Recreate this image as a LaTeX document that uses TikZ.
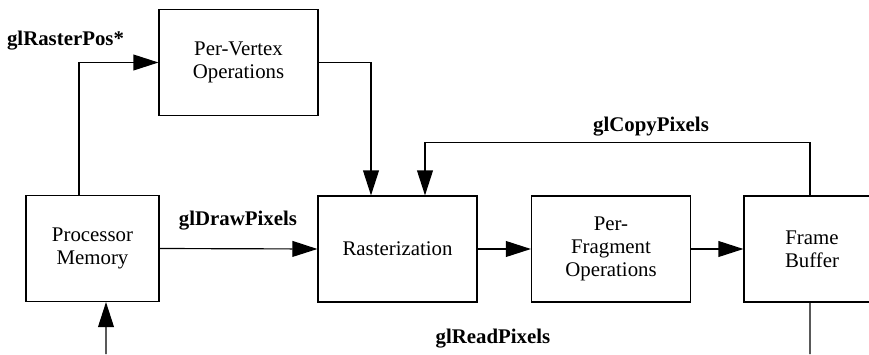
\documentclass[tikz,border=0pt]{standalone}
\usepackage{fontspec}
\setmainfont{Liberation Serif}
\newfontfamily\timesface{Liberation Serif}
\usetikzlibrary{arrows.meta}
\newcommand{\stagebox}[4][]{\node[stage,#1] at (#2) (#3) {#4}}

\begin{document}
\begin{tikzpicture}[x=0.6pt,y=-0.6pt,line width=0.7pt,
		>={Triangle[length=15pt,width=9.5pt]},
		stage/.style={draw,align=center,minimum width=95.4pt,minimum height=63.6pt,inner sep=2pt,font=\timesface\fontsize{12.5}{14}\selectfont},
		lbl/.style={font=\timesface\fontsize{12.5}{14}\selectfont\bfseries,inner sep=0pt}]
				\useasboundingbox (0,0) rectangle (869,354);
				\clip (0,0) rectangle (869,354);
				
				\stagebox[minimum width=79.8pt]{92.5,248.5}{mem}{Processor\\Memory};
				\stagebox{238.5,62.5}{vtx}{Per-Vertex\\Operations};
				\stagebox{397.5,249}{rast}{Rasterization};
				\stagebox{611,249}{frag}{Per-\\Fragment\\Operations};
				\stagebox[minimum width=81.6pt]{812,249}{fb}{Frame\\Buffer};
				
				\node[lbl] (rasterpos) at (65.5,41) {glRasterPos*};
				\node[lbl] (drawpix) at (238,221) {glDrawPixels};
				\node[lbl] (copypix) at (651,127) {glCopyPixels};
				\node[lbl] (readpix) at (493,339) {glReadPixels};
				
				\coordinate (memin) at (106,354);
				\coordinate (fbout) at (810,354);
				
				\draw [->]([xshift=-8.1pt]mem.north) |- (vtx.west);
				\draw [->](vtx.east) -| ([xshift=-15.9pt]rast.north);
				\draw [->]([xshift=-1.2pt]fb.north) -- ++(0,-53) -| ([xshift=16.5pt]rast.north);
				\draw [->](mem.east) -- (rast.west);
				\draw [->](rast) -- (frag);
				\draw [->](frag) -- (fb);
				\draw ([xshift=-1.2pt]fb.south) -- (fbout);
				\draw [->](memin) -- ([xshift=8.1pt]mem.south);
				
\end{tikzpicture}
\end{document}
